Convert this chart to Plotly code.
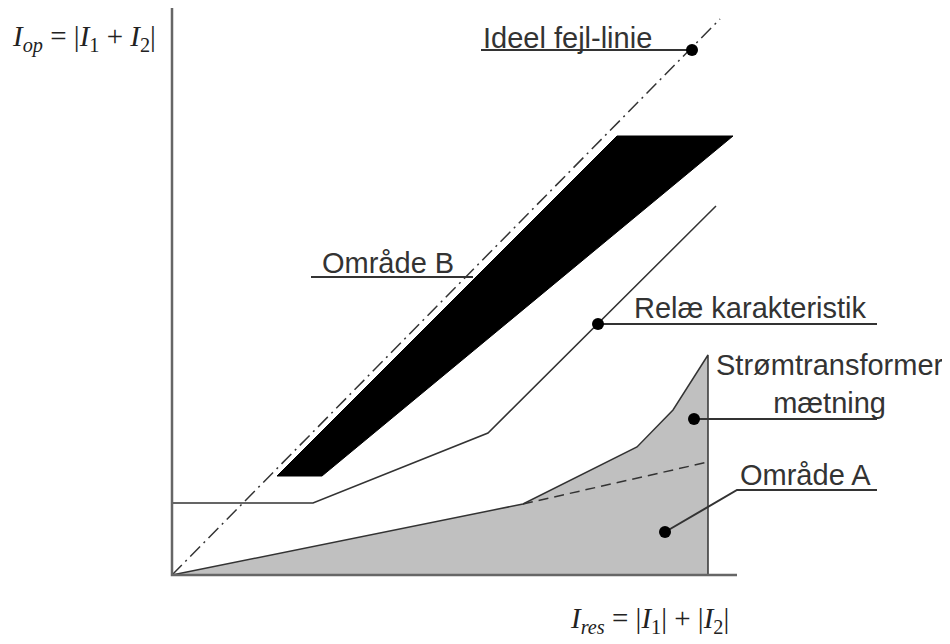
import plotly.graph_objects as go

# Schematic data (units: origin at axis corner)
axis_x = [0, 0, 565]
axis_y = [567, 0, 0]

ideal_x = [0, 548]
ideal_y = [0, 556]

band_x = [105, 150, 561, 445, 105]
band_y = [99, 99, 439, 439, 99]

relay_x = [0, 141, 316, 544]
relay_y = [72, 72, 142, 369]

sat_x = [0, 351, 465, 501, 536, 536, 0]
sat_y = [0, 71, 128, 165, 220, 0, 0]

lin_x = [351, 536]
lin_y = [71, 113]

# leader lines
lead_ideal_x = [309, 520]; lead_ideal_y = [525, 525]
lead_b_x = [139, 301]; lead_b_y = [298, 298]
lead_relay_x = [426, 705]; lead_relay_y = [251, 251]
lead_ct_x = [522, 705]; lead_ct_y = [156, 156]
lead_a_x = [493, 565, 705]; lead_a_y = [43, 85, 85]

dot_x = [520, 426, 522, 493]
dot_y = [525, 251, 156, 43]

labels = ["Ideel fejl-linie", "Område B", "Relæ karakteristik",
          "Strømtransformer<br>mætning", "Område A"]
label_x = [309, 148, 460, 658, 566]
label_y = [537, 312, 267, 191, 100]
label_anchor = ["left", "left", "left", "center", "left"]

dark = "#333333"
fig = go.Figure()

fig.add_trace(go.Scatter(x=sat_x, y=sat_y, mode="lines", fill="toself",
                         fillcolor="#c0c0c0", line=dict(color=dark, width=1.5)))
fig.add_trace(go.Scatter(x=lin_x, y=lin_y, mode="lines",
                         line=dict(color=dark, width=1.5, dash="10px,6px")))
fig.add_trace(go.Scatter(x=band_x, y=band_y, mode="lines", fill="toself",
                         fillcolor="black", line=dict(color="black", width=1)))
fig.add_trace(go.Scatter(x=ideal_x, y=ideal_y, mode="lines",
                         line=dict(color=dark, width=1.5, dash="14px,5px,2px,5px")))
fig.add_trace(go.Scatter(x=relay_x, y=relay_y, mode="lines",
                         line=dict(color=dark, width=1.5)))
for lx, ly in [(lead_ideal_x, lead_ideal_y), (lead_b_x, lead_b_y),
               (lead_relay_x, lead_relay_y), (lead_ct_x, lead_ct_y),
               (lead_a_x, lead_a_y)]:
    fig.add_trace(go.Scatter(x=lx, y=ly, mode="lines",
                             line=dict(color=dark, width=2)))
fig.add_trace(go.Scatter(x=axis_x, y=axis_y, mode="lines",
                         line=dict(color="#666666", width=2.5)))
fig.add_trace(go.Scatter(x=dot_x, y=dot_y, mode="markers",
                         marker=dict(color="black", size=12)))

for t, x, y, a in zip(labels, label_x, label_y, label_anchor):
    fig.add_annotation(x=x, y=y, text=t, showarrow=False, xanchor=a, yanchor="middle",
                       font=dict(family="Liberation Sans, Arial", size=29, color=dark))

math_font = dict(family="Liberation Serif, Times New Roman", size=29, color="#222222")
fig.add_annotation(x=-162, y=537, xanchor="left", yanchor="middle", showarrow=False,
                   text="<i>I</i><sub><i>op</i></sub> = |<i>I</i><sub>1</sub> + <i>I</i><sub>2</sub>|",
                   font=math_font)
fig.add_annotation(x=396, y=-45, xanchor="left", yanchor="middle", showarrow=False,
                   text="<i>I</i><sub><i>res</i></sub> = |<i>I</i><sub>1</sub>| + |<i>I</i><sub>2</sub>|",
                   font=math_font)

# page body has an 8px margin; ranges compensate so the axis corner lands at (172, 575)
fig.update_layout(
    width=950, height=644, showlegend=False,
    margin=dict(l=0, r=0, t=0, b=0),
    paper_bgcolor="white", plot_bgcolor="white",
    xaxis=dict(range=[-164, 786], visible=False, fixedrange=True),
    yaxis=dict(range=[-77, 567], visible=False, fixedrange=True),
)
fig.write_html("out.html")
